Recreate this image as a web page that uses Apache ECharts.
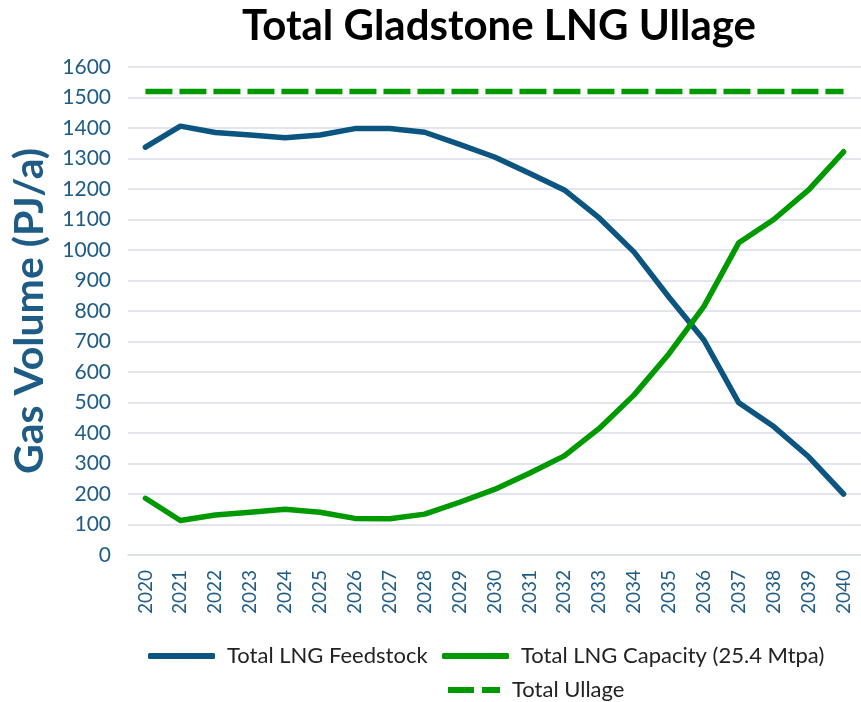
<!DOCTYPE html>
<html lang="en">
<head>
  <meta charset="UTF-8">
  <title>Total Gladstone LNG Ullage</title>
  <style>
    html, body { margin: 0; padding: 0; width: 100%; height: 100%; background: #fff; }
    #chart { width: 861px; height: 702px; }
  </style>
  <script src="https://cdn.jsdelivr.net/npm/echarts@6/dist/echarts.min.js"></script>
</head>
<body>
  <div id="chart"></div>
  <script>
    const years = ['2020', '2021', '2022', '2023', '2024', '2025', '2026', '2027', '2028', '2029', '2030',
      '2031', '2032', '2033', '2034', '2035', '2036', '2037', '2038', '2039', '2040'];
    const feedstock = [1337, 1406, 1385, 1377, 1368, 1377, 1398, 1398, 1386, 1346, 1305,
      1252, 1197, 1105, 993, 845, 705, 499, 421, 322, 200];
    const capacity = [186, 113, 131, 140, 150, 140, 120, 119, 134, 173, 215,
      268, 325, 415, 525, 660, 815, 1024, 1100, 1197, 1322];
    const ullage = [1520, 1520, 1520, 1520, 1520, 1520, 1520, 1520, 1520, 1520, 1520,
      1520, 1520, 1520, 1520, 1520, 1520, 1520, 1520, 1520, 1520];

    const blue = '#0B5580';
    const green = '#009A00';
    const axisText = '#1F5C85';
    const font = 'Lato, "Open Sans", sans-serif';

    // one legend per item so each can sit where the reference puts it
    function legendAt(name, left, top, icon, width) {
      return {
        data: [name],
        left: left,
        top: top,
        icon: icon,
        itemWidth: width,
        itemHeight: 6,
        textStyle: { fontSize: 22, lineHeight: 24, color: '#222', fontFamily: font, padding: [0, 0, 0, 7] }
      };
    }

    const chart = echarts.init(document.getElementById('chart'));
    chart.setOption({
      animation: false,
      textStyle: { fontFamily: font },
      title: {
        text: 'Total Gladstone LNG Ullage',
        left: 494,
        textAlign: 'center',
        top: 0,
        textStyle: { fontSize: 42, fontWeight: 'bold', color: '#000', fontFamily: font }
      },
      legend: [
        legendAt('Total LNG Feedstock', 143, 639, 'roundRect', 67),
        legendAt('Total LNG Capacity (25.4 Mtpa)', 437, 639, 'roundRect', 67),
        legendAt('Total Ullage', 443, 673, 'path://M0,0h26v6h-26z M34,0h18v6h-18z', 52)
      ],
      grid: { left: 128, right: 0, top: 67, bottom: 147, containLabel: false },
      xAxis: {
        type: 'category',
        data: years,
        boundaryGap: true,
        axisLine: { lineStyle: { color: '#D9DDE8', width: 1.5 } },
        axisTick: { show: false },
        axisLabel: { rotate: 90, fontSize: 19, color: axisText, margin: 15, fontFamily: font }
      },
      yAxis: {
        type: 'value',
        min: 0,
        max: 1600,
        interval: 100,
        name: 'Gas Volume (PJ/a)',
        nameLocation: 'middle',
        nameGap: 78,
        nameTextStyle: { fontSize: 41, fontWeight: 'bold', color: axisText, fontFamily: font },
        axisLine: { show: false },
        axisTick: { show: false },
        axisLabel: { fontSize: 21, color: axisText, margin: 17, fontFamily: font, formatter: v => String(v) },
        splitLine: { lineStyle: { color: '#D9DDE8', width: 1.5 } }
      },
      series: [
        {
          name: 'Total LNG Feedstock',
          type: 'line',
          data: feedstock,
          showSymbol: false,
          symbol: 'none',
          lineStyle: { color: blue, width: 5.5, cap: 'round', join: 'round' },
          itemStyle: { color: blue }
        },
        {
          name: 'Total LNG Capacity (25.4 Mtpa)',
          type: 'line',
          data: capacity,
          showSymbol: false,
          symbol: 'none',
          lineStyle: { color: green, width: 5.5, cap: 'round', join: 'round' },
          itemStyle: { color: green }
        },
        {
          name: 'Total Ullage',
          type: 'line',
          data: ullage,
          showSymbol: false,
          symbol: 'none',
          lineStyle: { color: green, width: 5.5, type: [27, 7] },
          itemStyle: { color: green }
        }
      ]
    });
  </script>
</body>
</html>
